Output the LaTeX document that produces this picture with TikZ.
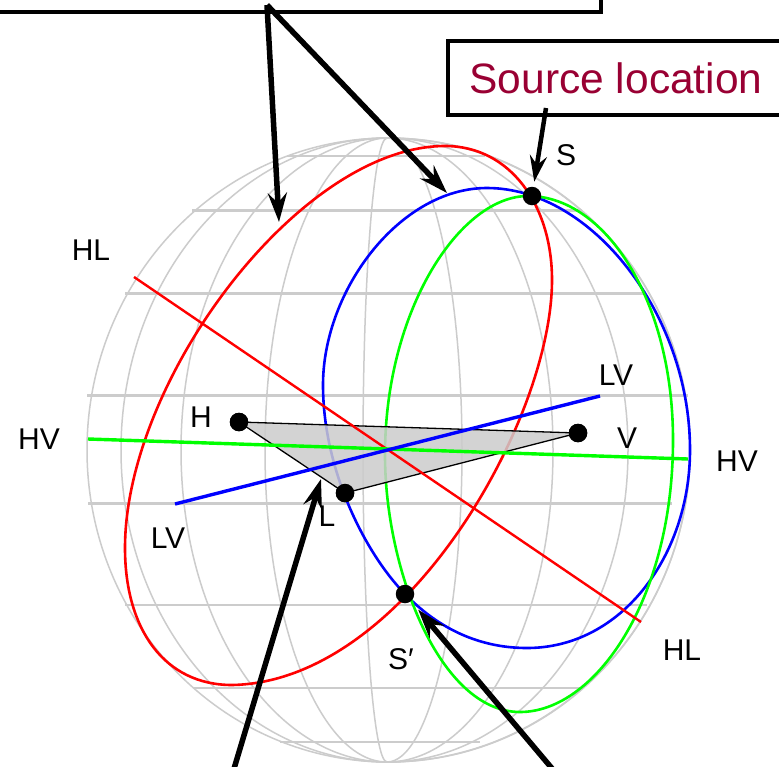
\documentclass[tikz,border=0pt]{standalone}
\usepackage{fontspec}
\setmainfont{Liberation Sans}
\usetikzlibrary{arrows.meta}
\definecolor{gridgray}{HTML}{CCCCCC}
\definecolor{srcred}{HTML}{990033}
\definecolor{pgreen}{HTML}{00FF00}
\newcommand{\meridian}[1]{%
  \pgfmathsetmacro{\mrx}{387-(#1)}%
  \pgfmathsetmacro{\mrk}{387-.5523*(#1)}%
  \draw[meridianline] (387,138) .. controls (\mrk,138) and (\mrx,277.7) .. (\mrx,450)
     .. controls (\mrx,622.3) and (\mrk,762) .. (387,762);}
\tikzset{
  meridianline/.style={draw=gridgray,line width=1.5pt},
  parallelline/.style={draw=gridgray,line width=2.4pt},
  redcurve/.style={draw=red,line width=2.6pt},
  bluecurve/.style={draw=blue,line width=2.6pt},
  greencurve/.style={draw=pgreen,line width=2.6pt},
  thickarrow/.style={draw=black,line width=5.5pt,-{Stealth[length=29pt,width=19pt,inset=10pt]}},
  thinarrow/.style={draw=black,line width=4.5pt,-{Stealth[length=26pt,width=17pt,inset=9pt]}},
  dotnode/.style={circle,fill=black,inner sep=0pt,minimum size=18.5pt},
  lab/.style={inner sep=0pt,font=\fontsize{30}{30}\selectfont},
  boxnode/.style={draw=black,line width=4pt,fill=white,inner sep=0pt},
}
\begin{document}
\begin{tikzpicture}[x=1pt,y=-1pt]
\clip (0,0) rectangle (779,766);
\fill[white] (0,0) rectangle (779,766);
% sphere grid
\foreach \r in {24,122,206,266,-75,-166,-241,-303} {\meridian{\r}}
\draw[meridianline] (388.5,450) ellipse [x radius=301.5,y radius=312];
\draw[parallelline] (287,156) -- (485,156);
\draw[parallelline] (192,210.5) -- (582,210.5);
\draw[parallelline] (125,293.5) -- (643,293.5);
\draw[parallelline] (87,395.5) -- (688,395.5);
\draw[parallelline] (88,503.5) -- (672,503.5);
\draw[parallelline] (125,605) -- (647,605);
\draw[parallelline] (193,688) -- (583,688);
\draw[parallelline] (280,742) -- (480,742);
% great circles
\draw[redcurve] (445,146) .. controls (510,146) and (552,205) .. (552,280)
  .. controls (552,420) and (405,682) .. (232,685)
  .. controls (165,685) and (125,630) .. (125,548)
  .. controls (125,380) and (300,146) .. (445,146) -- cycle;
\draw[bluecurve] (487,188) .. controls (592,188) and (690,315) .. (690,450)
  .. controls (690,555) and (622,648) .. (527,648)
  .. controls (475,648) and (435,625) .. (405,594)
  .. controls (365,553) and (323,470) .. (323,385)
  .. controls (323,290) and (400,188) .. (487,188) -- cycle;
\draw[greencurve] (528,196) .. controls (605,196) and (673,300) .. (673,440)
  .. controls (673,600) and (595,712) .. (520,712)
  .. controls (440,712) and (385,570) .. (385,455)
  .. controls (385,310) and (460,196) .. (528,196) -- cycle;
% triangle
\node[dotnode] (H) at (239,422) {};
\node[dotnode] (V) at (578,433) {};
\node[dotnode] (L) at (345,493) {};
\node[dotnode] (S) at (532,196) {};
\node[dotnode] (Sp) at (405,594) {};
\fill[gridgray,fill opacity=.85] (H.center) -- (V.center) -- (L.center) -- cycle;
\draw[black,line width=1.3pt] (H.center) -- (V.center) -- (L.center) -- cycle;
\node[dotnode] at (H) {};
\node[dotnode] at (V) {};
\node[dotnode] at (L) {};
% axes
\coordinate (HLa) at (134,277); \coordinate (HLb) at (641,622);
\coordinate (HVa) at (88,439);  \coordinate (HVb) at (688,459);
\coordinate (LVa) at (175,504); \coordinate (LVb) at (600,396);
\draw[draw=red,line width=2.4pt] (HLa) -- (HLb);
\draw[draw=pgreen,line width=3.4pt] (HVa) -- (HVb);
\draw[draw=blue,line width=3.4pt] (LVa) -- (LVb);
% boxes
\node[boxnode,minimum width=640pt,minimum height=60pt] (topbox) at (281,-18) {};
\node[boxnode,minimum width=340pt,minimum height=74pt,text=srcred,font=\fontsize{42.5}{42.5}\selectfont] (srcbox) at (618,78) {\hspace*{-4pt}Source location};
% arrows
\coordinate (topstart) at (267,5);
\coordinate (redtip) at (279,222);
\coordinate (bluetip) at (447,193);
\coordinate (srcstart) at (546,108);
\coordinate (ltail) at (233,772);
\coordinate (ltip) at (321,479);
\coordinate (sptail) at (555,772);
\draw[thickarrow] (topstart) -- (redtip);
\draw[thickarrow] (topstart) -- (bluetip);
\draw[thinarrow,shorten >=5pt] (srcstart) -- (S);
\draw[thickarrow] (ltail) -- (ltip);
\draw[thickarrow,shorten >=11pt] (sptail) -- (Sp);
% labels
\node[lab] (tHLa) at (91,250) {HL};
\node[lab] (tHVa) at (39,439) {HV};
\node[lab] (tH) at (201,417) {H};
\node[lab] (tL) at (327,516) {L};
\node[lab] (tLVa) at (168,538) {LV};
\node[lab] (tLVb) at (616,375) {LV};
\node[lab] (tV) at (627,438) {V};
\node[lab] (tHVb) at (737,461) {HV};
\node[lab] (tHLb) at (682,650) {HL};
\node[lab] (tS) at (566,155) {S};
\node[lab] (tSp) at (401,659) {S′};
\end{tikzpicture}
\end{document}
